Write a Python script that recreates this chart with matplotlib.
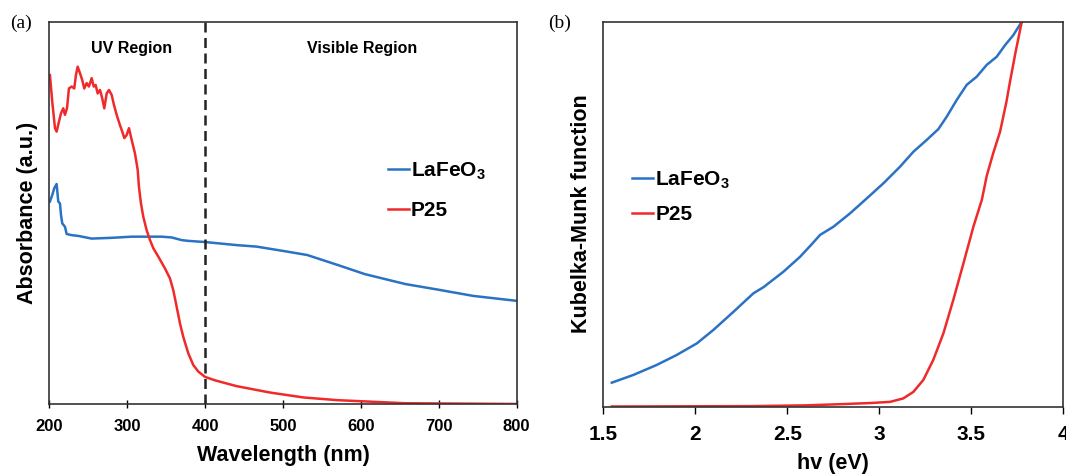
import matplotlib
matplotlib.use('Agg')
import numpy as np
import matplotlib.pyplot as plt

plt.rcParams['font.family'] = ['Liberation Sans', 'DejaVu Sans']
plt.rcParams['mathtext.fontset'] = 'custom'
plt.rcParams['mathtext.rm'] = 'Liberation Sans:bold'

BLUE = '#2a72c4'
RED = '#f02a2a'

# ── (a) absorbance spectra ────────────────────────────────────────────────
wl_p25 = [200.6, 203.6, 207.1, 209.2, 212.2, 214.8, 217.7, 219.9, 222.5,
          225.0, 228.5, 231.8, 234.0, 236.2, 239.2, 242.1, 244.7, 247.8,
          250.7, 254.2, 256.8, 259.3, 261.9, 264.9, 267.8, 270.4, 273.5,
          276.4, 279.9, 282.8, 286.3, 290.5, 293.5, 296.1, 299.1, 302.1,
          305.6, 309.8, 313.3, 314.9, 317.5, 320.5, 324.8, 329.1, 333.3,
          339.7, 348.3, 354.7, 359.0, 363.3, 367.6, 371.8, 378.2, 384.7,
          391.1, 399.7, 412.5, 439.7, 483.1, 526.5, 569.9, 613.4, 656.8, 800]
ab_p25 = [0.861, 0.791, 0.722, 0.713, 0.739, 0.761, 0.774, 0.757, 0.774,
          0.826, 0.831, 0.826, 0.861, 0.883, 0.866, 0.848, 0.826, 0.840,
          0.831, 0.853, 0.831, 0.835, 0.813, 0.822, 0.800, 0.774, 0.813,
          0.822, 0.809, 0.783, 0.757, 0.730, 0.713, 0.696, 0.704, 0.722,
          0.691, 0.656, 0.613, 0.569, 0.525, 0.490, 0.455, 0.429, 0.408,
          0.386, 0.355, 0.329, 0.298, 0.255, 0.211, 0.176, 0.133, 0.102,
          0.085, 0.071, 0.062, 0.047, 0.030, 0.017, 0.010, 0.006, 0.002, 0.0]

wl_lfo = [200.6, 203.6, 206.2, 209.2, 211.3, 213.5, 214.8, 216.4, 219.9,
          222.1, 228.5, 237.0, 254.2, 279.9, 305.6, 344.1, 356.9, 369.8,
          378.2, 399.7, 440, 466, 505, 531, 570, 605, 657, 700, 744, 800]
ab_lfo = [0.530, 0.547, 0.565, 0.576, 0.530, 0.525, 0.495, 0.473, 0.464,
          0.445, 0.442, 0.440, 0.433, 0.435, 0.438, 0.438, 0.436, 0.429,
          0.427, 0.424, 0.416, 0.412, 0.399, 0.390, 0.364, 0.340, 0.314,
          0.299, 0.283, 0.270]

# ── (b) Kubelka-Munk function ─────────────────────────────────────────────
ev_lfo = [1.546, 1.663, 1.790, 1.899, 2.008, 2.098, 2.207, 2.315, 2.370,
          2.478, 2.569, 2.633, 2.678, 2.750, 2.841, 2.932, 3.022, 3.112,
          3.185, 3.258, 3.321, 3.366, 3.421, 3.475, 3.529, 3.584, 3.638,
          3.683, 3.728, 3.774]
km_lfo = [0.062, 0.082, 0.108, 0.134, 0.164, 0.199, 0.246, 0.294, 0.310,
          0.350, 0.389, 0.422, 0.446, 0.467, 0.502, 0.541, 0.580, 0.623,
          0.662, 0.693, 0.721, 0.753, 0.797, 0.836, 0.857, 0.888, 0.909,
          0.939, 0.965, 1.0]

ev_p25 = [1.546, 2.300, 2.600, 2.786, 2.950, 3.058, 3.130, 3.185, 3.239,
          3.293, 3.348, 3.402, 3.457, 3.511, 3.557, 3.584, 3.620, 3.656,
          3.690, 3.710, 3.740, 3.774]
km_p25 = [0.0, 0.001, 0.003, 0.006, 0.009, 0.012, 0.021, 0.038, 0.069,
          0.121, 0.190, 0.277, 0.372, 0.467, 0.537, 0.600, 0.660, 0.714,
          0.790, 0.844, 0.920, 1.0]

fig = plt.figure(figsize=(10.66, 4.74), dpi=100)
ax1 = fig.add_axes([0.0464, 0.1477, 0.4383, 0.8059])
ax2 = fig.add_axes([0.566, 0.1424, 0.4315, 0.8118])

leg_kw = dict(frameon=False, borderpad=0, borderaxespad=0, handlelength=1.0,
              handletextpad=0.1, prop={'size': 15, 'weight': 'bold'})

# panel a
ax1.plot(wl_lfo, ab_lfo, color=BLUE, lw=1.8, label='LaFeO$_\\mathregular{3}$')
ax1.plot(wl_p25, ab_p25, color=RED, lw=1.8, label='P25')
ax1.axvline(400, color='#222222', ls=(0, (4, 2.2)), lw=1.8)
ax1.set_xlim(200, 800)
ax1.set_ylim(0, 1)
ax1.set_xticks(range(200, 801, 100))
ax1.set_yticks([])
ax1.tick_params(axis='x', direction='inout', length=6, width=1, pad=8, labelsize=12)
for t in ax1.get_xticklabels():
    t.set_fontweight('bold')
ax1.set_xlabel('Wavelength (nm)', fontsize=15.5, fontweight='bold', labelpad=8)
ax1.set_ylabel('Absorbance (a.u.)', fontsize=15.5, fontweight='bold', labelpad=8)
ax1.text(306, 0.93, 'UV Region', ha='center', va='center', fontsize=11.5, fontweight='bold')
ax1.text(601, 0.93, 'Visible Region', ha='center', va='center', fontsize=11.5, fontweight='bold')
ax1.legend(loc='center left', bbox_to_anchor=(0.725, 0.56), labelspacing=0.94, **leg_kw)
fig.text(0.02, 0.95, '(a)', family='Liberation Serif', fontsize=14, va='center', ha='center')

# panel b
ax2.plot(ev_lfo, km_lfo, color=BLUE, lw=1.8, label='LaFeO$_\\mathregular{3}$')
ax2.plot(ev_p25, km_p25, color=RED, lw=1.8, label='P25')
ax2.set_xlim(1.5, 4)
ax2.set_ylim(0, 1)
ax2.set_xticks([1.5, 2, 2.5, 3, 3.5, 4])
ax2.set_xticklabels(['1.5', '2', '2.5', '3', '3.5', '4'])
ax2.set_yticks([])
ax2.tick_params(axis='x', direction='out', length=5, width=1, pad=8, labelsize=15)
for t in ax2.get_xticklabels():
    t.set_fontweight('bold')
ax2.set_xlabel('hv (eV)', fontsize=15.5, fontweight='bold', labelpad=7)
ax2.set_ylabel('Kubelka-Munk function', fontsize=15.5, fontweight='bold', labelpad=8)
ax2.legend(loc='center left', bbox_to_anchor=(0.063, 0.545), labelspacing=0.65, **leg_kw)
fig.text(0.525, 0.95, '(b)', family='Liberation Serif', fontsize=14, va='center', ha='center')

for ax in (ax1, ax2):
    for s in ax.spines.values():
        s.set_color('#333333')
        s.set_linewidth(1.2)

fig.savefig('out.png', dpi=100)
